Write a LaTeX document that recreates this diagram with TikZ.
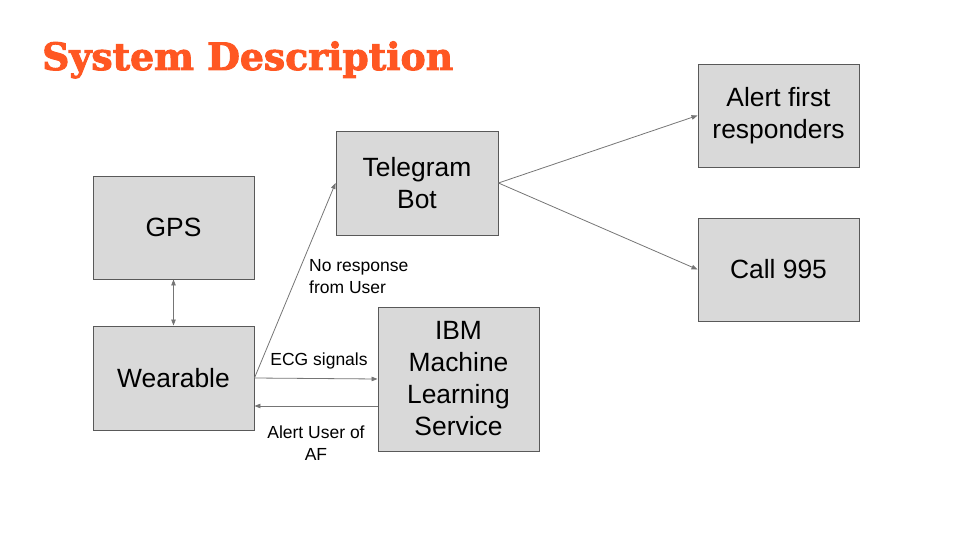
\documentclass[tikz,border=0pt]{standalone}
\usepackage{fontspec}
\setmainfont{Liberation Sans}
\newfontfamily\titlefont[BoldFeatures={FakeBold=2.5}]{DejaVu Serif}
\usetikzlibrary{arrows.meta}
\definecolor{titleorange}{HTML}{FF5722}
\definecolor{boxfill}{HTML}{D9D9D9}
\definecolor{boxline}{HTML}{595959}
\definecolor{arrowgray}{HTML}{757575}
\tikzset{
  box/.style={draw=boxline, fill=boxfill, line width=0.9pt, minimum width=161pt, minimum height=103pt, inner sep=0pt, align=center, font=\fontsize{26.4pt}{32pt}\selectfont},
  conn/.style={draw=arrowgray, line width=0.8pt, -{Triangle[length=6pt,width=4.5pt]}},
  lbl/.style={inner sep=0pt, font=\fontsize{17.5pt}{22pt}\selectfont}
}
\begin{document}
\begin{tikzpicture}[x=1pt,y=-1pt]
\useasboundingbox (0,0) rectangle (960,540);
\node[anchor=base west, inner sep=0pt, text=titleorange] (title) at (42,70) {\resizebox{411pt}{!}{\titlefont\bfseries System Description}};
\node[box] (gps) at (173.5,227.5) {GPS};
\node[box, minimum height=104pt] (wear) at (173.5,378) {Wearable};
\node[box, minimum width=162pt, minimum height=104pt] (tg) at (417,183) {Telegram\\Bot};
\node[box, minimum height=144pt] (ibm) at (458.5,379) {IBM\\Machine\\Learning\\Service};
\node[box] (af) at (778.5,115.5) {Alert first\\responders};
\node[box] (call) at (778.5,269.5) {Call 995};
\draw[conn, {Triangle[length=6pt,width=4.5pt]}-{Triangle[length=6pt,width=4.5pt]}] (gps.south) -- (wear.north);
\draw[conn] (wear.east) -- (tg.west);
\draw[conn] (wear.east) -- (ibm.west);
\draw[conn] ([yshift=-27pt]ibm.west) -- ([yshift=-28pt]wear.east);
\draw[conn] (tg.east) -- (af.west);
\draw[conn] (tg.east) -- (call.west);
\node[lbl, anchor=north west, align=left] (nr) at (309,259) {No response\\from User};
\node[lbl] (ecg) at (319,361) {ECG signals};
\node[lbl, align=center] (alu) at (316,443) {Alert User of\\AF};
\end{tikzpicture}
\end{document}
